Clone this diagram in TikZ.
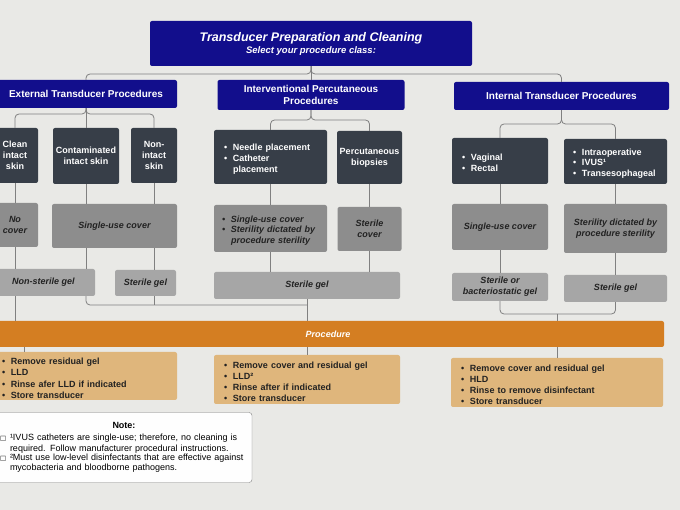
\documentclass[tikz,border=0pt]{standalone}
\usepackage{fontspec}
\setmainfont{Liberation Sans}
\newfontfamily\boxglyph{DejaVu Sans}
\usepackage{tikz}
\usetikzlibrary{positioning, calc}
\definecolor{paper}{RGB}{233,233,230}
\definecolor{navy}{RGB}{18,14,140}
\definecolor{slate}{RGB}{55,62,72}
\definecolor{covergray}{RGB}{141,141,141}
\definecolor{gelgray}{RGB}{166,166,166}
\definecolor{procorange}{RGB}{212,126,34}
\definecolor{steptan}{RGB}{223,182,124}
\definecolor{wire}{RGB}{128,128,128}
\definecolor{ink}{RGB}{34,34,34}
\tikzset{
    box/.style = {inner sep=0pt, rounded corners=2pt, align=center},
    wh/.style 2 args = {minimum width=#1pt, minimum height=#2pt},
    titlebox/.style = {box, fill=navy, text=white, font=\bfseries\itshape},
    catbox/.style = {box, fill=navy, text=white, font=\fontsize{10}{12}\selectfont\bfseries},
    casebox/.style = {box, fill=slate, text=white, font=\fontsize{9}{10.8}\selectfont\bfseries},
    coverbox/.style = {box, fill=covergray, text=ink, font=\fontsize{9}{10.8}\selectfont\bfseries\itshape},
    gelbox/.style = {coverbox, fill=gelgray},
    procbar/.style = {box, fill=procorange, text=white, font=\fontsize{9}{11}\selectfont\bfseries\itshape},
    stepbox/.style = {box, fill=steptan, text=ink, align=left, inner xsep=10pt,
        font=\fontsize{9}{11.2}\selectfont\bfseries},
    notebox/.style = {box, fill=white!96!paper, draw=wire, rounded corners=3pt, align=left,
        inner xsep=4pt, font=\fontsize{9}{10.2}\selectfont},
    listed/.style = {align=left, inner xsep=10pt},
    conn/.style = {draw=wire, line width=0.8pt, rounded corners=4pt},
}
% bullet line with hanging text
\newcommand{\bul}[1]{\par\noindent\makebox[9pt][l]{\textbullet}%
    \parbox[t]{\dimexpr\linewidth-9pt\relax}{\raggedright #1}}
\newcommand{\nitem}[1]{\par\noindent\makebox[10pt][l]{\boxglyph\fontsize{6.5}{6.5}\selectfont □}%
    \parbox[t]{\dimexpr\linewidth-10pt\relax}{\raggedright #1}}

\begin{document}
\begin{tikzpicture}[x=1pt, y=-1pt]
        \useasboundingbox (0,0) rectangle (680,510);
        \clip (0,0) rectangle (680,510);
        \fill[paper] (0,0) rectangle (680,510);
        % header and procedure classes
        \node[titlebox, wh={322}{45}] (title) at (311,43.5)
            {{\fontsize{12.5}{15}\selectfont Transducer Preparation and Cleaning}\\
             {\fontsize{9.5}{11}\selectfont Select your procedure class:}};
        \node[catbox, wh={182}{28}] (ext) at (86,94) {External Transducer Procedures};
        \node[catbox, wh={187}{30}] (intv) at (311,95) {Interventional Percutaneous\\Procedures};
        \node[catbox, wh={215}{28}] (inn) at (561.5,96) {Internal Transducer Procedures};
        % cases
        \node[casebox, wh={46}{55}] (clean) at (15,155.5) {Clean\\intact\\skin};
        \node[casebox, wh={66}{56}] (contam) at (86,156) {Contaminated\\intact skin};
        \node[casebox, wh={46}{55}] (nonint) at (154,155.5) {Non-\\intact\\skin};
        \node[casebox, listed, wh={113}{54}, text width=93pt] (needle) at (270.5,157)
            {\bul{Needle placement}\bul{Catheter\\placement}};
        \node[casebox, wh={65}{53}] (biopsy) at (369.5,157.5) {Percutaneous\\biopsies};
        \node[casebox, listed, wh={96}{46}, text width=76pt] (vagrec) at (500,161)
            {\bul{Vaginal}\bul{Rectal}};
        \node[casebox, listed, inner xsep=9pt, wh={103}{45}, text width=85pt] (intra) at (615.5,161.5)
            {\bul{Intraoperative}\bul{IVUS¹}\bul{Transesophageal}};
        % covers
        \node[coverbox, wh={46}{44}] (nocover) at (15,225) {No\\cover};
        \node[coverbox, wh={125}{44}] (suc1) at (114.5,226) {Single-use cover};
        \node[coverbox, listed, inner xsep=8pt, wh={113}{47}, text width=97pt] (suc2) at (270.5,228.5)
            {\bul{Single-use cover}\bul{Sterility dictated by\\procedure sterility}};
        \node[coverbox, wh={64}{44}] (sterc) at (369.5,229) {Sterile\\cover};
        \node[coverbox, wh={96}{46}] (suc3) at (500,227) {Single-use cover};
        \node[coverbox, wh={103}{49}] (sdps) at (615.5,228.5) {Sterility dictated by\\procedure sterility};
        % gels
        \node[gelbox, wh={103}{27}] (nsgel) at (43.5,282.5) {Non-sterile gel};
        \node[gelbox, wh={61}{26}] (sgel1) at (145.5,283) {Sterile gel};
        \node[gelbox, wh={186}{27}] (sgel2) at (307,285.5) {Sterile gel};
        \node[gelbox, wh={96}{28}] (sbgel) at (500,287) {Sterile or\\bacteriostatic gel};
        \node[gelbox, wh={103}{27}] (sgel3) at (615.5,288.5) {Sterile gel};
        % procedure and cleaning steps
        \node[procbar, wh={672}{26}] (bar) at (328,334) {Procedure};
        \node[stepbox, wh={185}{48}, text width=165pt] (clean1) at (84.5,376)
            {\bul{Remove residual gel}\bul{LLD}\bul{Rinse afer LLD if indicated}\bul{Store transducer}};
        \node[stepbox, wh={186}{49}, text width=166pt] (clean2) at (307,379.5)
            {\bul{Remove cover and residual gel}\bul{LLD²}\bul{Rinse after if indicated}\bul{Store transducer}};
        \node[stepbox, wh={212}{49}, text width=192pt] (clean3) at (557,382.5)
            {\bul{Remove cover and residual gel}\bul{HLD}\bul{Rinse to remove disinfectant}\bul{Store transducer}};
        \node[notebox, wh={256}{70}, text width=248pt] (note) at (124,447.5)
            {{\centering\bfseries Note:\par}\vspace{2pt}%
             \nitem{¹IVUS catheters are single-use; therefore, no cleaning is\\required. Follow manufacturer procedural instructions.}%
             \nitem{²Must use low-level disinfectants that are effective against\\mycobacteria and bloodborne pathogens.}};

        % connectors
        \draw[conn] (title.south) -- (title.south |- 0,74) -| (ext.north);
        \draw[conn] (title.south) -- (title.south |- 0,74) -| (inn.north);
        \draw[conn] (title.south) -- (intv.north);
        \draw[conn] (ext.south) -- (ext.south |- 0,114) -| (clean.north);
        \draw[conn] (ext.south) -- (ext.south |- 0,114) -| (nonint.north);
        \draw[conn] (ext.south) -- (contam.north);
        \draw[conn] (intv.south) -- (intv.south |- 0,120) -| (needle.north);
        \draw[conn] (intv.south) -- (intv.south |- 0,120) -| (biopsy.north);
        \draw[conn] (inn.south) -- (inn.south |- 0,124) -| (vagrec.north);
        \draw[conn] (inn.south) -- (inn.south |- 0,124) -| (intra.north);
        \draw[conn] (clean.south) -- (nocover.north);
        \draw[conn] (contam.south) -- (contam.south |- suc1.north);
        \draw[conn] (nonint.south) -- (nonint.south |- suc1.north);
        \draw[conn] (needle.south) -- (suc2.north);
        \draw[conn] (biopsy.south) -- (sterc.north);
        \draw[conn] (vagrec.south) -- (suc3.north);
        \draw[conn] (intra.south) -- (sdps.north);
        \draw[conn] (nocover.south) -- (nocover.south |- nsgel.north);
        \draw[conn] (contam.south |- suc1.south) -- (contam.south |- nsgel.north);
        \draw[conn] (nonint.south |- suc1.south) -- (nonint.south |- sgel1.north);
        \draw[conn] (suc2.south) -- (suc2.south |- sgel2.north);
        \draw[conn] (sterc.south) -- (sterc.south |- sgel2.north);
        \draw[conn] (suc3.south) -- (sbgel.north);
        \draw[conn] (sdps.south) -- (sgel3.north);
        \draw[conn] (nocover.south |- nsgel.south) -- (nocover.south |- bar.north);
        \draw[conn] (contam.south |- nsgel.south) |- (sgel2.south |- 0,305);
        \draw[conn] (nonint.south |- sgel1.south) -- (nonint.south |- 0,305);
        \draw[conn] (sgel2.south) -- (sgel2.south |- bar.north);
        \draw[conn] (sbgel.south) |- (clean3.north |- 0,314);
        \draw[conn] (sgel3.south) |- (clean3.north |- 0,314);
        \draw[conn] (clean3.north |- 0,314) -- (clean3.north |- bar.north);
        \draw[conn] (bar.south -| 24,0) -- (clean1.north -| 24,0);
        \draw[conn] (bar.south -| clean2.north) -- (clean2.north);
        \draw[conn] (bar.south -| clean3.north) -- (clean3.north);
\end{tikzpicture}
\end{document}
